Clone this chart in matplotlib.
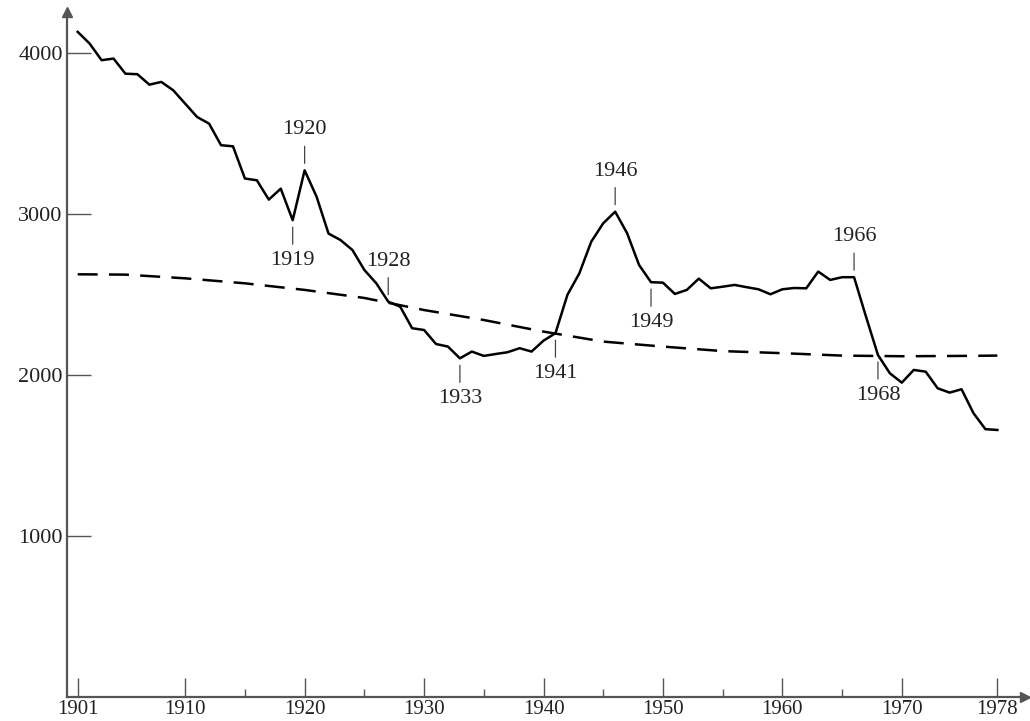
import matplotlib
matplotlib.use("Agg")
import matplotlib.pyplot as plt

# yearly series
years = list(range(1901, 1979))
values = [
    4133, 4060, 3957, 3967, 3873, 3870, 3805, 3822, 3770, 3687,
    3604, 3563, 3429, 3422, 3222, 3211, 3091, 3159, 2963, 3273,
    3109, 2880, 2840, 2778, 2654, 2571, 2457, 2426, 2292, 2281,
    2194, 2178, 2105, 2147, 2120, 2132, 2143, 2168, 2147, 2215,
    2261, 2499, 2633, 2830, 2944, 3016, 2882, 2685, 2578, 2575,
    2505, 2530, 2600, 2540, 2550, 2561, 2547, 2534, 2503, 2534,
    2542, 2540, 2644, 2592, 2609, 2609, 2364, 2126, 2012, 1954,
    2033, 2022, 1919, 1892, 1913, 1764, 1665, 1660,
]

# trend line (dashed)
trend_years = [1901, 1905, 1910, 1915, 1920, 1925, 1930, 1935, 1940,
               1945, 1950, 1955, 1960, 1965, 1970, 1975, 1978]
trend_values = [2627, 2625, 2602, 2571, 2530, 2480, 2405, 2343, 2271,
                2209, 2178, 2150, 2137, 2122, 2118, 2120, 2122]

# annotated years: label, anchor year, side
marks = [
    ("1920", 1920, "up"), ("1919", 1919, "down"), ("1928", 1927, "up"),
    ("1933", 1933, "down"), ("1941", 1941, "down"), ("1946", 1946, "up"),
    ("1949", 1949, "down"), ("1966", 1966, "up"), ("1968", 1968, "down"),
]

xticks_major = [1901, 1910, 1920, 1930, 1940, 1950, 1960, 1970, 1978]
xticks_minor = [1915, 1925, 1935, 1945, 1955, 1965]
yticks = [1000, 2000, 3000, 4000]

plt.rcParams['font.family'] = ['Liberation Serif', 'DejaVu Serif']
axis_col = '#555555'
text_col = '#222222'

fig = plt.figure(figsize=(10.3, 7.21), dpi=100)
ax = fig.add_axes([0.065, 0.033, 0.930, 0.9505])
ax.set_xlim(1900.1, 1980.3)
ax.set_ylim(0, 4257)

ax.plot(years, values, color='black', lw=1.8, solid_joinstyle='round')
ax.plot(trend_years, trend_values, color='black', lw=1.8, dashes=(8, 4.5))

for label, yr, side in marks:
    v = values[years.index(yr)]
    dy = 31 if side == "up" else -31
    ax.annotate(label, xy=(yr, v), xytext=(0, dy), textcoords='offset pixels',
                ha='center', va='bottom' if side == "up" else 'top',
                fontsize=16, color=text_col,
                arrowprops=dict(arrowstyle='-', color='#444444', lw=0.9,
                                shrinkA=3, shrinkB=5))

for s in ['top', 'right']:
    ax.spines[s].set_visible(False)
for s in ['left', 'bottom']:
    ax.spines[s].set_color(axis_col)
    ax.spines[s].set_linewidth(1.6)

# arrow heads on the axes
ax.plot(1, 0, '>', color=axis_col, markersize=7, transform=ax.get_yaxis_transform(), clip_on=False)
ax.plot(1900.1, 1, '^', color=axis_col, markersize=7, transform=ax.get_xaxis_transform(), clip_on=False)

ax.set_xticks(xticks_major)
ax.set_xticks(xticks_minor, minor=True)
ax.set_yticks(yticks)
ax.set_yticklabels([str(t) for t in yticks])
ax.tick_params(axis='x', which='major', direction='in', length=14, width=1, color=axis_col,
               labelsize=15, pad=2, labelcolor=text_col)
ax.tick_params(axis='x', which='minor', direction='in', length=6, width=1, color=axis_col)
ax.tick_params(axis='y', direction='in', length=17, width=1, color=axis_col,
               labelsize=16, pad=3, labelcolor=text_col)

fig.savefig('out.png', dpi=100)
